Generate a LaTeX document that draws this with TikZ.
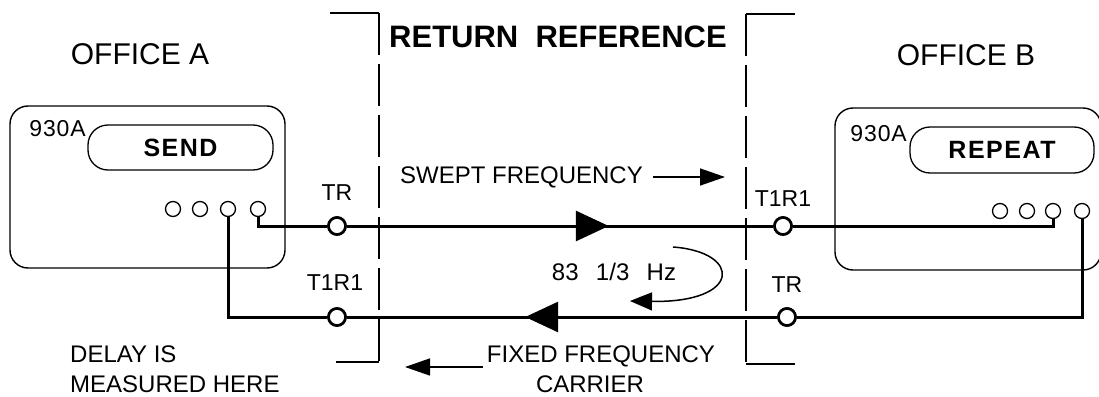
\documentclass[tikz,border=0pt]{standalone}
\usepackage{fontspec}
\setmainfont{Liberation Sans}
\usetikzlibrary{arrows.meta,decorations.markings}
\begin{document}
\begin{tikzpicture}[x=1pt,y=-1pt,
  big/.style={font=\fontsize{30}{32}\selectfont, inner sep=0pt},
  bigb/.style={font=\fontsize{31}{33}\selectfont\bfseries, inner sep=0pt},
  lbl/.style={font=\fontsize{24}{26}\selectfont, inner sep=0pt},
  basel/.style={lbl, text depth=0pt, text height=17pt, anchor=base},
  small/.style={font=\fontsize{23}{25}\selectfont, inner sep=0pt},
  idlbl/.style={font=\fontsize{23}{25}\selectfont\addfontfeature{LetterSpace=4}, inner sep=0pt},
  btn/.style={font=\fontsize{25}{27}\selectfont\bfseries\addfontfeature{LetterSpace=6}, inner sep=0pt},
  unit/.style={draw, line width=1.4pt, rounded corners=18pt, inner sep=0pt},
  pill/.style={draw, line width=1.3pt, rounded corners=20pt, inner sep=0pt},
  port/.style={draw, circle, line width=1.3pt, minimum size=15pt, inner sep=0pt, fill=white},
  jack/.style={draw, circle, line width=2.6pt, minimum size=17pt, inner sep=0pt, fill=white},
  wire/.style={line width=3pt},
  bound/.style={line width=1.5pt},
  refdash/.style={line width=1.5pt, dash pattern=on 42pt off 9pt},
  smallarrow/.style={line width=1.5pt, -{Triangle[length=25pt,width=17pt]}},
  bigarrow/.style={postaction={decorate}, decoration={markings, mark=at position #1 with {\arrow{Triangle[length=33pt,width=30pt]}}}},
]
\useasboundingbox (0,0) rectangle (1099,396);

% titles
\node[big] (ofa) at (140,54) {OFFICE A};
\node[bigb] (ret) at (558,37) {RETURN\ \ REFERENCE};
\node[big] (ofb) at (966,55) {OFFICE B};

% return reference boundaries
\coordinate (ltop) at (379,13);
\coordinate (lbot) at (379,362);
\coordinate (ltl) at (330,13);
\coordinate (lbl) at (336,362);
\coordinate (rtop) at (746,14);
\coordinate (rbot) at (746,364);
\coordinate (rtr) at (795,14);
\coordinate (rbr) at (795,364);
\draw[bound] (ltl) -- (ltop);
\draw[bound] (lbl) -- (lbot);
\draw[refdash] (ltop) -- (lbot);
\draw[bound] (rtr) -- (rtop);
\draw[bound] (rbr) -- (rbot);
\draw[refdash] (rtop) -- (rbot);

% office A unit
\node[unit, minimum width=275pt, minimum height=162pt] (boxA) at (147.5,187) {};
\node[pill, minimum width=185pt, minimum height=45pt] (sendp) at (180.5,147.5) {};
\node[btn] (send) at (sendp) {SEND};
\node[idlbl, anchor=east] (ida) at (86,129) {930A};
\node[port] (a1) at (173,209) {};
\node[port] (a2) at (200,209) {};
\node[port] (a3) at (228,209) {};
\node[port] (a4) at (258,209) {};

% office B unit
\node[unit, minimum width=266pt, minimum height=162pt] (boxB) at (968,189) {};
\node[pill, minimum width=184pt, minimum height=46pt] (repp) at (1002,150) {};
\node[btn] (rep) at (repp) {REPEAT};
\node[idlbl, anchor=east] (idb) at (907,134) {930A};
\node[port] (b1) at (1000,211) {};
\node[port] (b2) at (1027,211) {};
\node[port] (b3) at (1053,211) {};
\node[port] (b4) at (1082,211) {};

% jacks
\node[jack] (trA) at (337,226) {};
\node[jack] (t1r1B) at (783,226) {};
\node[jack] (t1r1A) at (337,317) {};
\node[jack] (trB) at (787,317) {};
\node[small] (ltrA) at (337,193) {TR};
\node[small] (lt1r1B) at (783,199) {T1R1};
\node[small] (lt1r1A) at (335,283) {T1R1};
\node[small] (ltrB) at (787,285) {TR};

% wires
\draw[wire] (a4) |- (trA);
\draw[wire, bigarrow=262pt] (trA) -- (t1r1B);
\draw[wire] (t1r1B) -| (b3);
\draw[wire] (a3) |- (t1r1A);
\draw[wire, bigarrow=252pt] (trB) -- (t1r1A);
\draw[wire] (trB) -| (b4);

% redraw jacks on top
\node[jack] at (trA) {};
\node[jack] at (t1r1B) {};
\node[jack] at (t1r1A) {};
\node[jack] at (trB) {};

% annotations
\node[lbl] (swept) at (521.5,177) {SWEPT FREQUENCY};
\coordinate (sweptend) at (725,177);
\draw[smallarrow] ([xshift=10pt]swept.east) -- (sweptend);

\node[lbl] (hz) at (614,272) {83\ \ \,1/3\ \ \,Hz};
\coordinate (hzs) at (673,247);
\coordinate (hze) at (630,301);
\draw[line width=1.5pt, -{Triangle[length=22pt,width=18pt]}] (hzs) .. controls (742,252) and (742,303) .. (hze);

\node[basel] (fixed) at (601,362) {FIXED FREQUENCY};
\node[basel] (carrier) at (590,392) {CARRIER};
\coordinate (fxs) at (483,367);
\coordinate (fxe) at (405,367);
\draw[smallarrow] (fxs) -- (fxe);

\node[basel, anchor=base west] (delay) at (70,362) {DELAY IS};
\node[basel, anchor=base west] (meas) at (70,392) {MEASURED HERE};
\end{tikzpicture}
\end{document}
